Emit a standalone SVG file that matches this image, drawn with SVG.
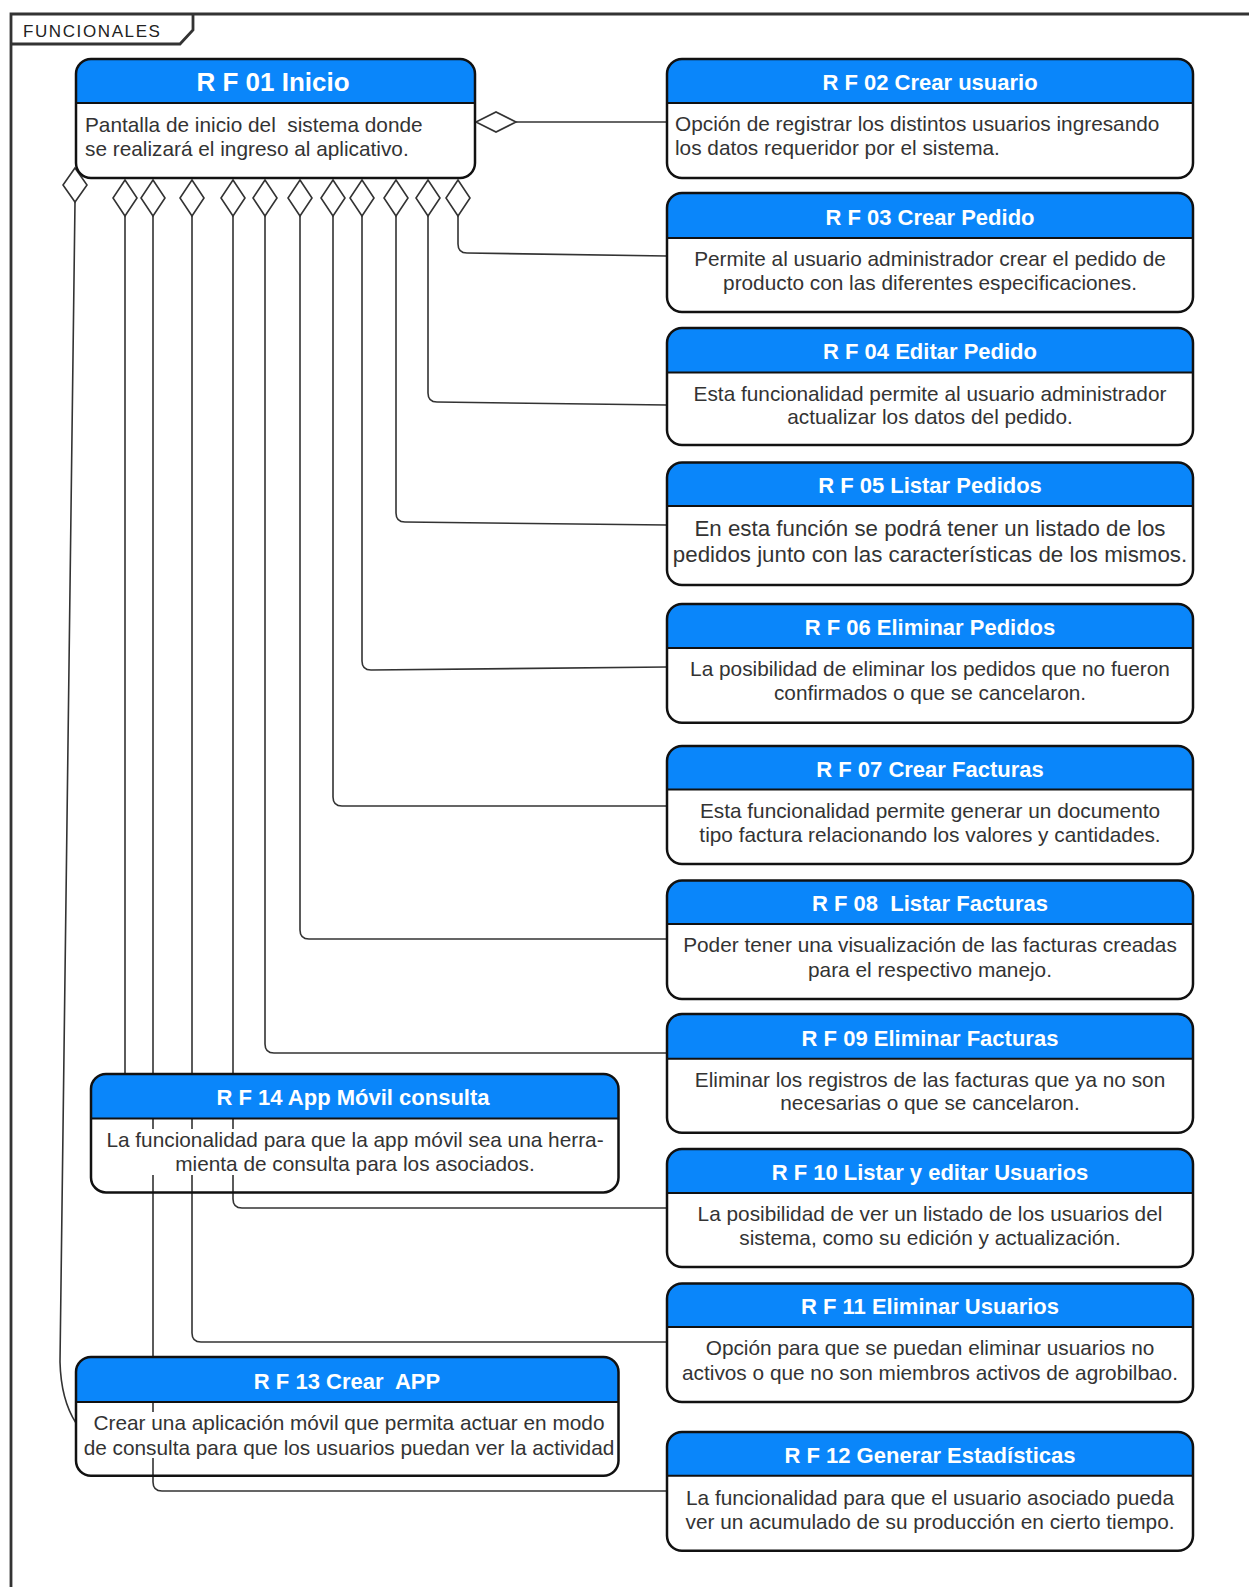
<svg xmlns="http://www.w3.org/2000/svg" width="1249" height="1587" viewBox="0 0 1249 1587">
<style>
.frame{fill:none;stroke:#333;stroke-width:2.8}
.tabt{font-family:"Liberation Sans",Arial,sans-serif;font-size:17px;fill:#222;letter-spacing:1.6px}
.hdr{fill:#0A86FA}
.box{fill:none;stroke:#111;stroke-width:2.5}
.sep{stroke:#111;stroke-width:2}
.ttl{font-family:"Liberation Sans",Arial,sans-serif;font-size:22px;font-weight:bold;fill:#fff;text-anchor:middle;white-space:pre}
.big{font-size:26px}
.bd{font-family:"Liberation Sans",Arial,sans-serif;font-size:20.8px;fill:#333;text-anchor:middle;white-space:pre}
.lg{font-size:22.3px}
.lft{text-anchor:start}
.bg{fill:#fff}
.con{fill:none;stroke:#333;stroke-width:1.6}
.dia{fill:#fff;stroke:#333;stroke-width:1.6}
</style>
<rect width="1249" height="1587" fill="#fff"/>
<g id="frame">
<path class="frame" d="M11,1600 V14 H1260"/>
<path class="frame" d="M11,44 H180 L193,30 V14"/>
<text class="tabt" x="23" y="36.5">FUNCIONALES</text>
</g>
<g id="connectors">
<path class="con" d="M516,122 H667"/>
<path class="con" d="M458,216 V244 Q458,253 467,253 L667,256"/>
<path class="con" d="M428,216 V393 Q428,402 437,402 L667,405"/>
<path class="con" d="M396,216 V513 Q396,522 405,522 L667,525"/>
<path class="con" d="M362,216 V661 Q362,670 371,670 L667,667"/>
<path class="con" d="M333,216 V797 Q333,806 342,806 H667"/>
<path class="con" d="M300,216 V930 Q300,939 309,939 H667"/>
<path class="con" d="M265,216 V1044 Q265,1053 274,1053 H667"/>
<path class="con" d="M233,216 V1199 Q233,1208 242,1208 H667"/>
<path class="con" d="M192,216 V1333 Q192,1342 201,1342 H667"/>
<path class="con" d="M153,216 V1482 Q153,1491 162,1491 H667"/>
<path class="con" d="M125,216 V1074"/>
<path class="con" d="M75,202 L60,1362 Q61,1400 76,1423"/>
<polygon class="dia" points="476,122 496,112 516,122 496,132"/>
<polygon class="dia" points="75,168 87,185 75,202 63,185"/>
<polygon class="dia" points="125,180 137,198 125,216 113,198"/>
<polygon class="dia" points="153,180 165,198 153,216 141,198"/>
<polygon class="dia" points="192,180 204,198 192,216 180,198"/>
<polygon class="dia" points="233,180 245,198 233,216 221,198"/>
<polygon class="dia" points="265,180 277,198 265,216 253,198"/>
<polygon class="dia" points="300,180 312,198 300,216 288,198"/>
<polygon class="dia" points="333,180 345,198 333,216 321,198"/>
<polygon class="dia" points="362,180 374,198 362,216 350,198"/>
<polygon class="dia" points="396,180 408,198 396,216 384,198"/>
<polygon class="dia" points="428,180 440,198 428,216 416,198"/>
<polygon class="dia" points="458,180 470,198 458,216 446,198"/>
</g>
<g id="rf01">
<path class="hdr" d="M76,103 V74 A15,15 0 0 1 91,59 H460 A15,15 0 0 1 475,74 V103 Z"/>
<rect class="box" x="76" y="59" width="399" height="119" rx="15"/>
<line class="sep" x1="76" y1="103" x2="475" y2="103"/>
<text class="ttl big" x="273" y="91">R F 01 Inicio</text>
<text class="bd lft" x="85" y="131.5">Pantalla de inicio del  sistema donde</text>
<text class="bd lft" x="85" y="156">se realizará el ingreso al aplicativo.</text>
</g>
<g id="rf02">
<path class="hdr" d="M667,103 V74 A15,15 0 0 1 682,59 H1178 A15,15 0 0 1 1193,74 V103 Z"/>
<rect class="box" x="667" y="59" width="526" height="119" rx="15"/>
<line class="sep" x1="667" y1="103" x2="1193" y2="103"/>
<text class="ttl" x="930" y="90">R F 02 Crear usuario</text>
<text class="bd lft" x="675" y="130.5">Opción de registrar los distintos usuarios ingresando</text>
<text class="bd lft" x="675" y="155">los datos requeridor por el sistema.</text>
</g>
<g id="rf03">
<path class="hdr" d="M667,238 V208 A15,15 0 0 1 682,193 H1178 A15,15 0 0 1 1193,208 V238 Z"/>
<rect class="box" x="667" y="193" width="526" height="119" rx="15"/>
<line class="sep" x1="667" y1="238" x2="1193" y2="238"/>
<text class="ttl" x="930" y="224.5">R F 03 Crear Pedido</text>
<text class="bd" x="930" y="266">Permite al usuario administrador crear el pedido de</text>
<text class="bd" x="930" y="290.4">producto con las diferentes especificaciones.</text>
</g>
<g id="rf04">
<path class="hdr" d="M667,372.5 V343 A15,15 0 0 1 682,328 H1178 A15,15 0 0 1 1193,343 V372.5 Z"/>
<rect class="box" x="667" y="328" width="526" height="117" rx="15"/>
<line class="sep" x1="667" y1="372.5" x2="1193" y2="372.5"/>
<text class="ttl" x="930" y="359">R F 04 Editar Pedido</text>
<text class="bd" x="930" y="400.7">Esta funcionalidad permite al usuario administrador</text>
<text class="bd" x="930" y="424">actualizar los datos del pedido.</text>
</g>
<g id="rf05">
<path class="hdr" d="M667,506 V477.6 A15,15 0 0 1 682,462.6 H1178 A15,15 0 0 1 1193,477.6 V506 Z"/>
<rect class="box" x="667" y="462.6" width="526" height="122.4" rx="15"/>
<line class="sep" x1="667" y1="506" x2="1193" y2="506"/>
<text class="ttl" x="930" y="493">R F 05 Listar Pedidos</text>
<text class="bd lg" x="930" y="535.8">En esta función se podrá tener un listado de los</text>
<text class="bd lg" x="930" y="561.5">pedidos junto con las características de los mismos.</text>
</g>
<g id="rf06">
<path class="hdr" d="M667,648 V619 A15,15 0 0 1 682,604 H1178 A15,15 0 0 1 1193,619 V648 Z"/>
<rect class="box" x="667" y="604" width="526" height="118.7" rx="15"/>
<line class="sep" x1="667" y1="648" x2="1193" y2="648"/>
<text class="ttl" x="930" y="634.5">R F 06 Eliminar Pedidos</text>
<text class="bd" x="930" y="676">La posibilidad de eliminar los pedidos que no fueron</text>
<text class="bd" x="930" y="700">confirmados o que se cancelaron.</text>
</g>
<g id="rf07">
<path class="hdr" d="M667,789.5 V761 A15,15 0 0 1 682,746 H1178 A15,15 0 0 1 1193,761 V789.5 Z"/>
<rect class="box" x="667" y="746" width="526" height="118" rx="15"/>
<line class="sep" x1="667" y1="789.5" x2="1193" y2="789.5"/>
<text class="ttl" x="930" y="777">R F 07 Crear Facturas</text>
<text class="bd" x="930" y="818">Esta funcionalidad permite generar un documento</text>
<text class="bd" x="930" y="842">tipo factura relacionando los valores y cantidades.</text>
</g>
<g id="rf08">
<path class="hdr" d="M667,924 V895.6 A15,15 0 0 1 682,880.6 H1178 A15,15 0 0 1 1193,895.6 V924 Z"/>
<rect class="box" x="667" y="880.6" width="526" height="118.4" rx="15"/>
<line class="sep" x1="667" y1="924" x2="1193" y2="924"/>
<text class="ttl" x="930" y="911">R F 08  Listar Facturas</text>
<text class="bd" x="930" y="952.4">Poder tener una visualización de las facturas creadas</text>
<text class="bd" x="930" y="976.7">para el respectivo manejo.</text>
</g>
<g id="rf09">
<path class="hdr" d="M667,1058.8 V1029 A15,15 0 0 1 682,1014 H1178 A15,15 0 0 1 1193,1029 V1058.8 Z"/>
<rect class="box" x="667" y="1014" width="526" height="118.7" rx="15"/>
<line class="sep" x1="667" y1="1058.8" x2="1193" y2="1058.8"/>
<text class="ttl" x="930" y="1045.5">R F 09 Eliminar Facturas</text>
<text class="bd" x="930" y="1087">Eliminar los registros de las facturas que ya no son</text>
<text class="bd" x="930" y="1110">necesarias o que se cancelaron.</text>
</g>
<g id="rf10">
<path class="hdr" d="M667,1193 V1164 A15,15 0 0 1 682,1149 H1178 A15,15 0 0 1 1193,1164 V1193 Z"/>
<rect class="box" x="667" y="1149" width="526" height="118" rx="15"/>
<line class="sep" x1="667" y1="1193" x2="1193" y2="1193"/>
<text class="ttl" x="930" y="1180">R F 10 Listar y editar Usuarios</text>
<text class="bd" x="930" y="1220.6">La posibilidad de ver un listado de los usuarios del</text>
<text class="bd" x="930" y="1245">sistema, como su edición y actualización.</text>
</g>
<g id="rf11">
<path class="hdr" d="M667,1327 V1298.5 A15,15 0 0 1 682,1283.5 H1178 A15,15 0 0 1 1193,1298.5 V1327 Z"/>
<rect class="box" x="667" y="1283.5" width="526" height="118.5" rx="15"/>
<line class="sep" x1="667" y1="1327" x2="1193" y2="1327"/>
<text class="ttl" x="930" y="1313.7">R F 11 Eliminar Usuarios</text>
<text class="bd" x="930" y="1355">Opción para que se puedan eliminar usuarios no</text>
<text class="bd" x="930" y="1379.5">activos o que no son miembros activos de agrobilbao.</text>
</g>
<g id="rf12">
<path class="hdr" d="M667,1475.8 V1447 A15,15 0 0 1 682,1432 H1178 A15,15 0 0 1 1193,1447 V1475.8 Z"/>
<rect class="box" x="667" y="1432" width="526" height="118.7" rx="15"/>
<line class="sep" x1="667" y1="1475.8" x2="1193" y2="1475.8"/>
<text class="ttl" x="930" y="1462.5">R F 12 Generar Estadísticas</text>
<text class="bd" x="930" y="1505">La funcionalidad para que el usuario asociado pueda</text>
<text class="bd" x="930" y="1529">ver un acumulado de su producción en cierto tiempo.</text>
</g>
<g id="rf14">
<path class="hdr" d="M91,1118.5 V1089 A15,15 0 0 1 106,1074 H603.5 A15,15 0 0 1 618.5,1089 V1118.5 Z"/>
<rect class="bg" x="105" y="1129" width="502" height="46"/>
<rect class="box" x="91" y="1074" width="527.5" height="118.4" rx="15"/>
<line class="sep" x1="91" y1="1118.5" x2="618.5" y2="1118.5"/>
<text class="ttl" x="353" y="1105">R F 14 App Móvil consulta</text>
<text class="bd" x="355" y="1146.7">La funcionalidad para que la app móvil sea una herra-</text>
<text class="bd" x="355" y="1171">mienta de consulta para los asociados.</text>
</g>
<g id="rf13">
<path class="hdr" d="M76,1402 V1372 A15,15 0 0 1 91,1357 H603.5 A15,15 0 0 1 618.5,1372 V1402 Z"/>
<rect class="bg" x="82" y="1412" width="534" height="46"/>
<rect class="box" x="76" y="1357" width="542.5" height="118.8" rx="15"/>
<line class="sep" x1="76" y1="1402" x2="618.5" y2="1402"/>
<text class="ttl" x="347" y="1388.6">R F 13 Crear  APP</text>
<text class="bd" x="349" y="1430">Crear una aplicación móvil que permita actuar en modo</text>
<text class="bd" x="349" y="1454.5">de consulta para que los usuarios puedan ver la actividad</text>
</g>
</svg>
